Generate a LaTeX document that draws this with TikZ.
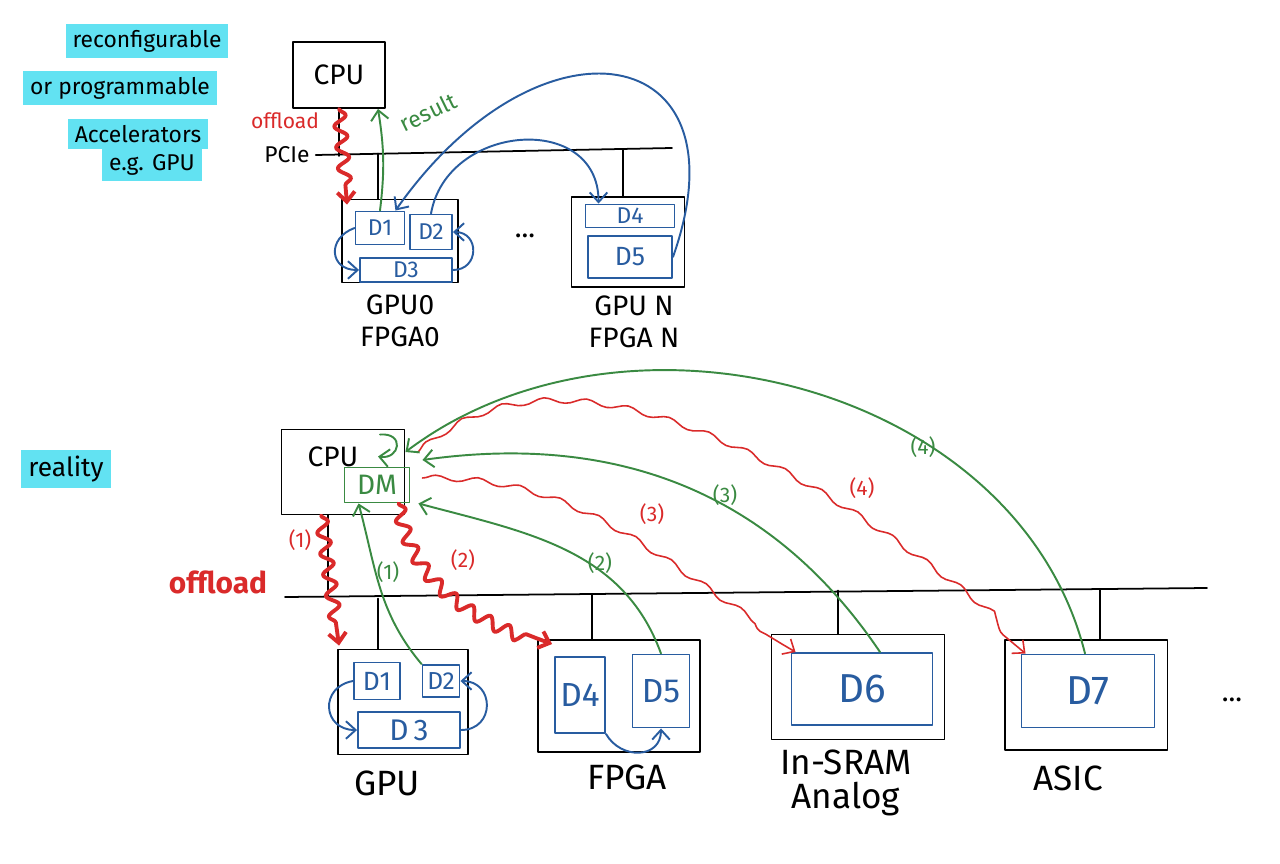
\documentclass[tikz,border=0pt]{standalone}
\usepackage{fontspec}
\setmainfont{Fira Sans}
\usetikzlibrary{calc}
\usetikzlibrary{arrows.meta}
\usetikzlibrary{decorations.pathmorphing}

\definecolor{penred}{RGB}{218,42,42}
\definecolor{pengreen}{RGB}{58,138,66}
\definecolor{penblue}{RGB}{40,92,160}
\definecolor{marker}{RGB}{98,226,242}

\begin{document}
\begin{tikzpicture}[x=0.02cm,y=-0.02cm,>={Straight Barb[length=5.5pt,width=10pt]},
  line cap=round,line join=round,node distance=1.6cm,
  box/.style={draw,line width=1.1pt,inner sep=0pt},
  dev/.style={draw=penblue,text=penblue,line width=1.1pt,inner sep=0pt,
    font=\fontsize{13}{15}\selectfont},
  hl/.style={fill=marker,inner xsep=4pt,minimum height=0.54cm,
    font=\fontsize{13}{15}\selectfont},
  lab/.style={align=center,font=\fontsize{16}{18}\selectfont},
  bigl/.style={align=center,font=\fontsize{20}{19}\selectfont},
  num/.style={font=\fontsize{12}{14}\selectfont},
  offload/.style={->,draw=penred,line width=2.2pt,decorate,
    decoration={snake,amplitude=3.5pt,segment length=12pt,post length=10pt}},
  msg/.style={->,draw=penred,line width=0.9pt,decorate,
    decoration={snake,amplitude=1.6pt,segment length=24pt,post length=9pt}},
  garrow/.style={->,draw=pengreen,line width=1.1pt},
  barrow/.style={->,draw=penblue,line width=1.1pt}]
  \fill[white] (0,0) rectangle (1280,864);
  \useasboundingbox (0,0) rectangle (1280,864);

  % notes
  \node[hl] (note1) at (147,41) {reconfigurable};
  \node[hl] (note2) at (120,88) {or programmable};
  \node[hl] (note3) at (138,134) {Accelerators};
  \node[hl] (note4) at (152,165) {e.g. GPU};

  % idea: host + PCIe + accelerators
  \node[box,minimum width=1.84cm,minimum height=1.32cm,
    font=\fontsize{16}{18}\selectfont] (CPUa) at (339,75) {CPU};
  \node[font=\fontsize{13}{15}\selectfont] (PCIe) at (287,155) {PCIe};
  \coordinate (busa) at (672,148);
  \draw[line width=1pt] (PCIe.east) -- (busa);

  \node[box,minimum width=2.32cm,minimum height=1.66cm] (GPUa) at (400,241) {};
  \node[dev,minimum width=0.98cm,minimum height=0.66cm] (D1a) at (380,228) {D1};
  \node[dev,minimum width=0.84cm,minimum height=0.70cm] (D2a) at (431,232) {D2};
  \node[dev,minimum width=1.84cm,minimum height=0.48cm] (D3a) at (406,270) {D3};
  \node[lab,below of=GPUa] (GPUaName) {GPU0\\FPGA0};

  \node[lab] (dotsa) at (525,236) {...};

  \node[box,minimum width=2.26cm,minimum height=1.80cm] (GPUn) at (628,242) {};
  \node[dev,minimum width=1.78cm,minimum height=0.46cm] (D4a) at (630,216) {D4};
  \node[dev,minimum width=1.68cm,minimum height=0.84cm,
    font=\fontsize{15}{17}\selectfont] (D5a) at (630,257) {D5};
  \node[lab,below of=GPUn,xshift=0.12cm] (GPUnName) {GPU N\\FPGA N};

  \draw[line width=1pt] (CPUa.south) -- ++(0,47);
  \draw[line width=1pt] ($(GPUa.north)+(-22,0)$) -- ++(0,-45);
  \draw[line width=1pt] ($(GPUn.north)+(-5,0)$) -- ++(0,-46);

  % offload / result
  \draw[offload] (CPUa.south) -- ($(GPUa.north west)+(6,6)$);
  \node[num,text=penred] (offA) at (285,121) {offload};
  \draw[garrow] (D1a.north) to[bend right=8] ($(CPUa.south)+(39,0)$);
  \node[text=pengreen,rotate=26,font=\fontsize{13}{15}\selectfont] (resA) at (428,112) {result};

  \path[every edge/.style={draw,barrow}]
    (D2a.north) edge[out=80,in=90,looseness=1.4] ($(D4a.north west)+(14,0)$)
    (D1a.west) edge[out=200,in=180,looseness=1.8] (D3a.west)
    (D3a.east) edge[out=0,in=0,looseness=1.8] (D2a.east);
  \draw[barrow] (D5a.east) .. controls (750,40) and (540,5) .. ($(D1a.north east)+(-10,0)$);

  % reality
  \node[hl,font=\fontsize{15}{17}\selectfont,minimum height=0.72cm] (real) at (66,469) {reality};
  \node[text=penred,font=\bfseries\fontsize{17}{19}\selectfont] (offB) at (218,582) {offload};

  \node[box,minimum width=2.46cm,minimum height=1.70cm] (CPUb) at (343,472) {};
  \node[font=\fontsize{16}{18}\selectfont] (CPUbText) at (333,457) {CPU};
  \node[draw=pengreen,text=pengreen,line width=1.1pt,minimum width=1.30cm,
    minimum height=0.70cm,inner sep=0pt,font=\fontsize{16}{18}\selectfont] (DM) at (377,485) {DM};

  \coordinate (busbL) at (285,597);
  \coordinate (busbR) at (1207,588);
  \draw[line width=1pt] (busbL) -- (busbR);

  \node[box,minimum width=2.60cm,minimum height=2.10cm] (GPUb) at (403,702) {};
  \node[dev,minimum width=0.92cm,minimum height=0.74cm,font=\fontsize{15}{17}\selectfont] (D1b) at (377,681) {D1};
  \node[dev,minimum width=0.74cm,minimum height=0.64cm,font=\fontsize{14}{16}\selectfont] (D2b) at (441,681) {D2};
  \node[dev,minimum width=2.04cm,minimum height=0.72cm,font=\fontsize{17}{19}\selectfont] (D3b) at (409,730) {D\,3};
  \node[bigl,below of=GPUb,node distance=1.62cm,xshift=-0.32cm] (GPUbName) {GPU};

  \node[box,minimum width=3.24cm,minimum height=2.24cm] (FPGAb) at (619,696) {};
  \node[dev,minimum width=1.0cm,minimum height=1.52cm,font=\fontsize{19}{21}\selectfont] (D4b) at (580,695) {D4};
  \node[dev,minimum width=1.14cm,minimum height=1.46cm,font=\fontsize{19}{21}\selectfont] (D5b) at (661,691) {D5};
  \node[bigl,below of=FPGAb,node distance=1.62cm,xshift=0.16cm] (FPGAbName) {FPGA};

  \node[box,minimum width=3.46cm,minimum height=2.10cm] (SRAM) at (858,687) {};
  \node[dev,minimum width=2.82cm,minimum height=1.44cm,font=\fontsize{23}{25}\selectfont] (D6) at (862,689) {D6};
  \node[bigl,below of=SRAM,node distance=1.92cm,xshift=-0.24cm] (SRAMName) {In-SRAM\\Analog};

  \node[box,minimum width=3.26cm,minimum height=2.2cm] (ASIC) at (1086,695) {};
  \node[dev,minimum width=2.66cm,minimum height=1.46cm,font=\fontsize{23}{25}\selectfont] (D7) at (1088,691) {D7};
  \node[bigl,below of=ASIC,node distance=1.66cm,xshift=-0.36cm] (ASICName) {ASIC};

  \node[lab] (dotsb) at (1232,700) {...};

  % drops from the bus
  \draw[line width=1pt] ($(CPUb.south)+(-15,0)$) -- ++(0,82);
  \draw[line width=1pt] ($(GPUb.north)+(-25,0)$) -- ++(0,-50);
  \draw[line width=1pt] ($(FPGAb.north)+(-27,0)$) -- ++(0,-45);
  \draw[line width=1pt] ($(SRAM.north)+(-20,0)$) -- ++(0,-43);
  \draw[line width=1pt] ($(ASIC.north)+(14,0)$) -- ++(0,-50);

  % local moves inside devices
  \path[every edge/.style={draw,barrow}]
    (D1b.west) edge[out=190,in=180,looseness=1.8] (D3b.west)
    (D3b.east) edge[out=0,in=0,looseness=1.8] (D2b.east)
    (D4b.south east) edge[out=-60,in=-90,looseness=1.4] (D5b.south);

  % (1)
  \draw[offload] ($(CPUb.south)+(-22,0)$) -- ($(GPUb.north west)+(2,-3)$);
  \node[num,text=penred] (n1r) at (300,540) {(1)};
  \draw[garrow] (D2b.north west) to[out=130,in=-75] ($(DM.south west)+(15,0)$);
  \node[num,text=pengreen] (n1g) at (388,572) {(1)};
  % (2)
  \draw[offload] ($(DM.south east)+(-12,0)$) to[out=-80,in=160] ($(FPGAb.north west)+(15,5)$);
  \node[num,text=penred] (n2r) at (463,560) {(2)};
  \draw[garrow] (D5b.north) to[out=110,in=-15] ($(DM.south east)+(8,0)$);
  \node[num,text=pengreen] (n2g) at (600,563) {(2)};
  % (3)
  \draw[msg] ($(DM.east)+(12,-7)$) to[out=0,in=150] ($(D6.north west)+(5,0)$);
  \node[num,text=penred] (n3r) at (652,514) {(3)};
  \draw[garrow] ($(D6.north)+(18,0)$) to[out=124,in=8] ($(DM.east)+(12,-25)$);
  \node[num,text=pengreen] (n3g) at (725,495) {(3)};
  % (4)
  \draw[msg] ($(DM.north east)+(7,-14)$) to[out=40,in=140,looseness=0.85] ($(D7.north west)+(5,0)$);
  \node[num,text=penred] (n4r) at (862,488) {(4)};
  \draw[garrow] ($(D7.north)+(-3,0)$) to[out=104,in=37] ($(CPUb.east)+(0,-20)$);
  \node[num,text=pengreen] (n4g) at (923,447) {(4)};

  \draw[garrow] ($(DM.north)+(3,-32)$) .. controls +(25,-2) and +(22,3) .. ($(DM.north)+(1,-10)$);
\end{tikzpicture}
\end{document}
